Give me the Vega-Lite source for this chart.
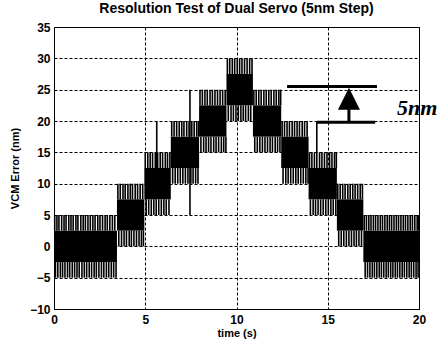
{
  "$schema": "https://vega.github.io/schema/vega-lite/v6.json",
  "width": 365,
  "height": 282,
  "autosize": "none",
  "padding": {"left": 54, "top": 27, "right": 26, "bottom": 36},
  "background": "white",
  "config": {
    "font": "Liberation Sans",
    "view": {"stroke": "black", "strokeWidth": 1},
    "axis": {
      "labelFont": "Liberation Sans", "labelFontWeight": "bold", "labelFontSize": 12, "labelColor": "black",
      "titleFont": "Liberation Sans", "titleFontWeight": "bold", "titleFontSize": 11, "titleColor": "black",
      "grid": true, "gridColor": "black", "gridDash": [3, 2], "gridOpacity": 1, "gridWidth": 1,
      "ticks": false, "domain": false, "labelOverlap": false
    },
    "axisY": {"tickCount": 10},
    "axisX": {"tickCount": 5}
  },
  "title": {"text": "Resolution Test of Dual Servo (5nm Step)", "offset": 5, "font": "Liberation Sans", "fontWeight": "bold", "fontSize": 14, "color": "black"},
  "datasets": {
    "bands": [
      {"t0": 0.0, "t1": 3.45, "lo": -2.5, "hi": 2.5},
      {"t0": 3.45, "t1": 4.95, "lo": 2.5, "hi": 7.5},
      {"t0": 4.95, "t1": 6.4, "lo": 7.5, "hi": 12.5},
      {"t0": 6.4, "t1": 7.95, "lo": 12.5, "hi": 17.5},
      {"t0": 7.95, "t1": 9.45, "lo": 17.5, "hi": 22.5},
      {"t0": 9.45, "t1": 10.9, "lo": 22.5, "hi": 27.5},
      {"t0": 10.9, "t1": 12.45, "lo": 17.5, "hi": 22.5},
      {"t0": 12.45, "t1": 13.95, "lo": 12.5, "hi": 17.5},
      {"t0": 13.95, "t1": 15.5, "lo": 7.5, "hi": 12.5},
      {"t0": 15.5, "t1": 16.95, "lo": 2.5, "hi": 7.5},
      {"t0": 16.95, "t1": 20.0, "lo": -2.5, "hi": 2.5}
    ],
    "spikes": [
      {"t":0.04,"lo":2.5,"hi":5},{"t":0.16,"lo":2.5,"hi":5},{"t":0.27,"lo":2.5,"hi":5},{"t":0.42,"lo":2.5,"hi":5},{"t":0.55,"lo":2.5,"hi":5},{"t":0.66,"lo":2.5,"hi":5},{"t":0.81,"lo":2.5,"hi":5},{"t":0.93,"lo":2.5,"hi":5},{"t":1.05,"lo":2.5,"hi":5},{"t":1.2,"lo":2.5,"hi":5},{"t":1.31,"lo":2.5,"hi":5},{"t":1.47,"lo":2.5,"hi":5},{"t":1.6,"lo":2.5,"hi":5},{"t":1.72,"lo":2.5,"hi":5},{"t":1.86,"lo":2.5,"hi":5},{"t":1.99,"lo":2.5,"hi":5},{"t":2.13,"lo":2.5,"hi":5},{"t":2.25,"lo":2.5,"hi":5},{"t":2.4,"lo":2.5,"hi":5},{"t":2.52,"lo":2.5,"hi":5},{"t":2.66,"lo":2.5,"hi":5},{"t":2.8,"lo":2.5,"hi":5},{"t":2.92,"lo":2.5,"hi":5},{"t":3.06,"lo":2.5,"hi":5},{"t":3.2,"lo":2.5,"hi":5},{"t":3.33,"lo":2.5,"hi":5},
      {"t":0.08,"lo":-5,"hi":-2.5},{"t":0.21,"lo":-5,"hi":-2.5},{"t":0.35,"lo":-5,"hi":-2.5},{"t":0.47,"lo":-5,"hi":-2.5},{"t":0.6,"lo":-5,"hi":-2.5},{"t":0.74,"lo":-5,"hi":-2.5},{"t":0.86,"lo":-5,"hi":-2.5},{"t":1.0,"lo":-5,"hi":-2.5},{"t":1.13,"lo":-5,"hi":-2.5},{"t":1.26,"lo":-5,"hi":-2.5},{"t":1.38,"lo":-5,"hi":-2.5},{"t":1.53,"lo":-5,"hi":-2.5},{"t":1.66,"lo":-5,"hi":-2.5},{"t":1.79,"lo":-5,"hi":-2.5},{"t":1.93,"lo":-5,"hi":-2.5},{"t":2.06,"lo":-5,"hi":-2.5},{"t":2.2,"lo":-5,"hi":-2.5},{"t":2.32,"lo":-5,"hi":-2.5},{"t":2.46,"lo":-5,"hi":-2.5},{"t":2.6,"lo":-5,"hi":-2.5},{"t":2.73,"lo":-5,"hi":-2.5},{"t":2.87,"lo":-5,"hi":-2.5},{"t":3.0,"lo":-5,"hi":-2.5},{"t":3.14,"lo":-5,"hi":-2.5},{"t":3.27,"lo":-5,"hi":-2.5},{"t":3.4,"lo":-5,"hi":-2.5},
      {"t":3.5,"lo":7.5,"hi":10},{"t":3.63,"lo":7.5,"hi":10},{"t":3.78,"lo":7.5,"hi":10},{"t":3.9,"lo":7.5,"hi":10},{"t":4.05,"lo":7.5,"hi":10},{"t":4.18,"lo":7.5,"hi":10},{"t":4.3,"lo":7.5,"hi":10},{"t":4.45,"lo":7.5,"hi":10},{"t":4.58,"lo":7.5,"hi":10},{"t":4.72,"lo":7.5,"hi":10},{"t":4.86,"lo":7.5,"hi":10},
      {"t":3.55,"lo":0,"hi":2.5},{"t":3.7,"lo":0,"hi":2.5},{"t":3.84,"lo":0,"hi":2.5},{"t":3.97,"lo":0,"hi":2.5},{"t":4.12,"lo":0,"hi":2.5},{"t":4.24,"lo":0,"hi":2.5},{"t":4.38,"lo":0,"hi":2.5},{"t":4.52,"lo":0,"hi":2.5},{"t":4.66,"lo":0,"hi":2.5},{"t":4.79,"lo":0,"hi":2.5},{"t":4.9,"lo":0,"hi":2.5},
      {"t":5.0,"lo":12.5,"hi":15},{"t":5.14,"lo":12.5,"hi":15},{"t":5.27,"lo":12.5,"hi":15},{"t":5.4,"lo":12.5,"hi":15},{"t":5.55,"lo":12.5,"hi":15},{"t":5.68,"lo":12.5,"hi":15},{"t":5.82,"lo":12.5,"hi":15},{"t":5.95,"lo":12.5,"hi":15},{"t":6.1,"lo":12.5,"hi":15},{"t":6.22,"lo":12.5,"hi":15},{"t":6.35,"lo":12.5,"hi":15},
      {"t":5.05,"lo":5,"hi":7.5},{"t":5.19,"lo":5,"hi":7.5},{"t":5.33,"lo":5,"hi":7.5},{"t":5.47,"lo":5,"hi":7.5},{"t":5.6,"lo":5,"hi":7.5},{"t":5.74,"lo":5,"hi":7.5},{"t":5.88,"lo":5,"hi":7.5},{"t":6.02,"lo":5,"hi":7.5},{"t":6.15,"lo":5,"hi":7.5},{"t":6.3,"lo":5,"hi":7.5},
      {"t":6.45,"lo":17.5,"hi":20},{"t":6.58,"lo":17.5,"hi":20},{"t":6.72,"lo":17.5,"hi":20},{"t":6.86,"lo":17.5,"hi":20},{"t":7.0,"lo":17.5,"hi":20},{"t":7.12,"lo":17.5,"hi":20},{"t":7.27,"lo":17.5,"hi":20},{"t":7.4,"lo":17.5,"hi":20},{"t":7.55,"lo":17.5,"hi":20},{"t":7.68,"lo":17.5,"hi":20},{"t":7.82,"lo":17.5,"hi":20},{"t":7.92,"lo":17.5,"hi":20},
      {"t":6.5,"lo":10,"hi":12.5},{"t":6.64,"lo":10,"hi":12.5},{"t":6.78,"lo":10,"hi":12.5},{"t":6.92,"lo":10,"hi":12.5},{"t":7.06,"lo":10,"hi":12.5},{"t":7.2,"lo":10,"hi":12.5},{"t":7.34,"lo":10,"hi":12.5},{"t":7.5,"lo":10,"hi":12.5},{"t":7.62,"lo":10,"hi":12.5},{"t":7.76,"lo":10,"hi":12.5},{"t":7.89,"lo":10,"hi":12.5},
      {"t":8.0,"lo":22.5,"hi":25},{"t":8.13,"lo":22.5,"hi":25},{"t":8.27,"lo":22.5,"hi":25},{"t":8.4,"lo":22.5,"hi":25},{"t":8.55,"lo":22.5,"hi":25},{"t":8.68,"lo":22.5,"hi":25},{"t":8.82,"lo":22.5,"hi":25},{"t":8.96,"lo":22.5,"hi":25},{"t":9.1,"lo":22.5,"hi":25},{"t":9.24,"lo":22.5,"hi":25},{"t":9.38,"lo":22.5,"hi":25},
      {"t":8.05,"lo":15,"hi":17.5},{"t":8.2,"lo":15,"hi":17.5},{"t":8.33,"lo":15,"hi":17.5},{"t":8.47,"lo":15,"hi":17.5},{"t":8.6,"lo":15,"hi":17.5},{"t":8.75,"lo":15,"hi":17.5},{"t":8.88,"lo":15,"hi":17.5},{"t":9.02,"lo":15,"hi":17.5},{"t":9.17,"lo":15,"hi":17.5},{"t":9.3,"lo":15,"hi":17.5},{"t":9.42,"lo":15,"hi":17.5},
      {"t":9.5,"lo":27.5,"hi":30},{"t":9.63,"lo":27.5,"hi":30},{"t":9.77,"lo":27.5,"hi":30},{"t":9.9,"lo":27.5,"hi":30},{"t":10.04,"lo":27.5,"hi":30},{"t":10.17,"lo":27.5,"hi":30},{"t":10.3,"lo":27.5,"hi":30},{"t":10.44,"lo":27.5,"hi":30},{"t":10.58,"lo":27.5,"hi":30},{"t":10.72,"lo":27.5,"hi":30},{"t":10.85,"lo":27.5,"hi":30},
      {"t":9.55,"lo":20,"hi":22.5},{"t":9.7,"lo":20,"hi":22.5},{"t":9.83,"lo":20,"hi":22.5},{"t":9.97,"lo":20,"hi":22.5},{"t":10.1,"lo":20,"hi":22.5},{"t":10.24,"lo":20,"hi":22.5},{"t":10.37,"lo":20,"hi":22.5},{"t":10.5,"lo":20,"hi":22.5},{"t":10.65,"lo":20,"hi":22.5},{"t":10.78,"lo":20,"hi":22.5},
      {"t":10.95,"lo":22.5,"hi":25},{"t":11.08,"lo":22.5,"hi":25},{"t":11.22,"lo":22.5,"hi":25},{"t":11.35,"lo":22.5,"hi":25},{"t":11.5,"lo":22.5,"hi":25},{"t":11.63,"lo":22.5,"hi":25},{"t":11.77,"lo":22.5,"hi":25},{"t":11.9,"lo":22.5,"hi":25},{"t":12.05,"lo":22.5,"hi":25},{"t":12.18,"lo":22.5,"hi":25},{"t":12.32,"lo":22.5,"hi":25},{"t":12.42,"lo":22.5,"hi":25},
      {"t":11.0,"lo":15,"hi":17.5},{"t":11.14,"lo":15,"hi":17.5},{"t":11.28,"lo":15,"hi":17.5},{"t":11.42,"lo":15,"hi":17.5},{"t":11.56,"lo":15,"hi":17.5},{"t":11.7,"lo":15,"hi":17.5},{"t":11.84,"lo":15,"hi":17.5},{"t":11.97,"lo":15,"hi":17.5},{"t":12.12,"lo":15,"hi":17.5},{"t":12.25,"lo":15,"hi":17.5},{"t":12.38,"lo":15,"hi":17.5},
      {"t":12.5,"lo":17.5,"hi":20},{"t":12.63,"lo":17.5,"hi":20},{"t":12.77,"lo":17.5,"hi":20},{"t":12.9,"lo":17.5,"hi":20},{"t":13.05,"lo":17.5,"hi":20},{"t":13.18,"lo":17.5,"hi":20},{"t":13.32,"lo":17.5,"hi":20},{"t":13.45,"lo":17.5,"hi":20},{"t":13.6,"lo":17.5,"hi":20},{"t":13.73,"lo":17.5,"hi":20},{"t":13.87,"lo":17.5,"hi":20},
      {"t":12.55,"lo":10,"hi":12.5},{"t":12.7,"lo":10,"hi":12.5},{"t":12.83,"lo":10,"hi":12.5},{"t":12.97,"lo":10,"hi":12.5},{"t":13.11,"lo":10,"hi":12.5},{"t":13.25,"lo":10,"hi":12.5},{"t":13.38,"lo":10,"hi":12.5},{"t":13.52,"lo":10,"hi":12.5},{"t":13.66,"lo":10,"hi":12.5},{"t":13.8,"lo":10,"hi":12.5},{"t":13.92,"lo":10,"hi":12.5},
      {"t":14.0,"lo":12.5,"hi":15},{"t":14.13,"lo":12.5,"hi":15},{"t":14.27,"lo":12.5,"hi":15},{"t":14.55,"lo":12.5,"hi":15},{"t":14.68,"lo":12.5,"hi":15},{"t":14.82,"lo":12.5,"hi":15},{"t":14.96,"lo":12.5,"hi":15},{"t":15.1,"lo":12.5,"hi":15},{"t":15.23,"lo":12.5,"hi":15},{"t":15.37,"lo":12.5,"hi":15},{"t":15.47,"lo":12.5,"hi":15},
      {"t":14.05,"lo":5,"hi":7.5},{"t":14.2,"lo":5,"hi":7.5},{"t":14.33,"lo":5,"hi":7.5},{"t":14.47,"lo":5,"hi":7.5},{"t":14.61,"lo":5,"hi":7.5},{"t":14.75,"lo":5,"hi":7.5},{"t":14.89,"lo":5,"hi":7.5},{"t":15.03,"lo":5,"hi":7.5},{"t":15.17,"lo":5,"hi":7.5},{"t":15.3,"lo":5,"hi":7.5},{"t":15.44,"lo":5,"hi":7.5},
      {"t":15.55,"lo":7.5,"hi":10},{"t":15.68,"lo":7.5,"hi":10},{"t":15.82,"lo":7.5,"hi":10},{"t":15.95,"lo":7.5,"hi":10},{"t":16.1,"lo":7.5,"hi":10},{"t":16.23,"lo":7.5,"hi":10},{"t":16.37,"lo":7.5,"hi":10},{"t":16.5,"lo":7.5,"hi":10},{"t":16.64,"lo":7.5,"hi":10},{"t":16.78,"lo":7.5,"hi":10},{"t":16.9,"lo":7.5,"hi":10},
      {"t":15.6,"lo":0,"hi":2.5},{"t":15.74,"lo":0,"hi":2.5},{"t":15.88,"lo":0,"hi":2.5},{"t":16.02,"lo":0,"hi":2.5},{"t":16.16,"lo":0,"hi":2.5},{"t":16.3,"lo":0,"hi":2.5},{"t":16.44,"lo":0,"hi":2.5},{"t":16.57,"lo":0,"hi":2.5},{"t":16.71,"lo":0,"hi":2.5},{"t":16.85,"lo":0,"hi":2.5},
      {"t":17.0,"lo":2.5,"hi":5},{"t":17.12,"lo":2.5,"hi":5},{"t":17.25,"lo":2.5,"hi":5},{"t":17.37,"lo":2.5,"hi":5},{"t":17.5,"lo":2.5,"hi":5},{"t":17.62,"lo":2.5,"hi":5},{"t":17.75,"lo":2.5,"hi":5},{"t":17.88,"lo":2.5,"hi":5},{"t":18.0,"lo":2.5,"hi":5},{"t":18.13,"lo":2.5,"hi":5},{"t":18.26,"lo":2.5,"hi":5},{"t":18.38,"lo":2.5,"hi":5},{"t":18.5,"lo":2.5,"hi":5},{"t":18.63,"lo":2.5,"hi":5},{"t":18.76,"lo":2.5,"hi":5},{"t":18.88,"lo":2.5,"hi":5},{"t":19.01,"lo":2.5,"hi":5},{"t":19.14,"lo":2.5,"hi":5},{"t":19.26,"lo":2.5,"hi":5},{"t":19.39,"lo":2.5,"hi":5},{"t":19.52,"lo":2.5,"hi":5},{"t":19.64,"lo":2.5,"hi":5},{"t":19.77,"lo":2.5,"hi":5},{"t":19.9,"lo":2.5,"hi":5},{"t":19.98,"lo":2.5,"hi":5},
      {"t":17.05,"lo":-5,"hi":-2.5},{"t":17.18,"lo":-5,"hi":-2.5},{"t":17.31,"lo":-5,"hi":-2.5},{"t":17.44,"lo":-5,"hi":-2.5},{"t":17.56,"lo":-5,"hi":-2.5},{"t":17.69,"lo":-5,"hi":-2.5},{"t":17.82,"lo":-5,"hi":-2.5},{"t":17.94,"lo":-5,"hi":-2.5},{"t":18.07,"lo":-5,"hi":-2.5},{"t":18.2,"lo":-5,"hi":-2.5},{"t":18.32,"lo":-5,"hi":-2.5},{"t":18.45,"lo":-5,"hi":-2.5},{"t":18.57,"lo":-5,"hi":-2.5},{"t":18.7,"lo":-5,"hi":-2.5},{"t":18.82,"lo":-5,"hi":-2.5},{"t":18.95,"lo":-5,"hi":-2.5},{"t":19.08,"lo":-5,"hi":-2.5},{"t":19.2,"lo":-5,"hi":-2.5},{"t":19.33,"lo":-5,"hi":-2.5},{"t":19.46,"lo":-5,"hi":-2.5},{"t":19.58,"lo":-5,"hi":-2.5},{"t":19.71,"lo":-5,"hi":-2.5},{"t":19.84,"lo":-5,"hi":-2.5},{"t":19.95,"lo":-5,"hi":-2.5},
      {"t":5.63,"lo":12.5,"hi":20},{"t":7.45,"lo":5,"hi":25},{"t":14.4,"lo":12.5,"hi":20}
    ],
    "hlines": [
      {"t0": 12.77, "t1": 17.7, "y": 25.5},
      {"t0": 14.41, "t1": 17.6, "y": 19.8}
    ],
    "shaft": [{"t": 16.16, "y0": 19.8, "y1": 22.3}],
    "head": [{"t": 16.16, "y": 23.55}],
    "label": [{"t": 18.8, "y": 22.0, "txt": "5nm"}]
  },
  "layer": [
    {
      "data": {"name": "bands"},
      "mark": {"type": "rect", "color": "black"},
      "encoding": {
        "x": {"field": "t0", "type": "quantitative", "scale": {"domain": [0, 20], "nice": false},
              "axis": {"values": [0, 5, 10, 15, 20], "title": "time (s)", "labelFlush": false, "labelPadding": 5, "titlePadding": 2}},
        "x2": {"field": "t1"},
        "y": {"field": "lo", "type": "quantitative", "scale": {"domain": [-10, 35], "nice": false},
              "axis": {"values": [-10, -5, 0, 5, 10, 15, 20, 25, 30, 35], "title": "VCM Error (nm)", "labelPadding": 4, "titlePadding": 9, "labelFlush": false}},
        "y2": {"field": "hi"}
      }
    },
    {
      "data": {"name": "spikes"},
      "mark": {"type": "rule", "color": "black", "strokeWidth": 1.6},
      "encoding": {
        "x": {"field": "t", "type": "quantitative", "axis": {"values": [0, 5, 10, 15, 20]}},
        "y": {"field": "lo", "type": "quantitative", "axis": {"values": [-10, -5, 0, 5, 10, 15, 20, 25, 30, 35]}},
        "y2": {"field": "hi"}
      }
    },
    {
      "data": {"name": "hlines"},
      "mark": {"type": "rule", "color": "black", "strokeWidth": 3},
      "encoding": {
        "x": {"field": "t0", "type": "quantitative", "axis": {"values": [0, 5, 10, 15, 20]}},
        "x2": {"field": "t1"},
        "y": {"field": "y", "type": "quantitative", "axis": {"values": [-10, -5, 0, 5, 10, 15, 20, 25, 30, 35]}}
      }
    },
    {
      "data": {"name": "shaft"},
      "mark": {"type": "rule", "color": "black", "strokeWidth": 3},
      "encoding": {
        "x": {"field": "t", "type": "quantitative", "axis": {"values": [0, 5, 10, 15, 20]}},
        "y": {"field": "y0", "type": "quantitative", "axis": {"values": [-10, -5, 0, 5, 10, 15, 20, 25, 30, 35]}},
        "y2": {"field": "y1"}
      }
    },
    {
      "data": {"name": "head"},
      "mark": {"type": "point", "shape": "M0,-1L1,1L-1,1Z", "filled": true, "color": "black", "size": 484, "opacity": 1},
      "encoding": {
        "x": {"field": "t", "type": "quantitative", "axis": {"values": [0, 5, 10, 15, 20]}},
        "y": {"field": "y", "type": "quantitative", "axis": {"values": [-10, -5, 0, 5, 10, 15, 20, 25, 30, 35]}}
      }
    },
    {
      "data": {"name": "label"},
      "mark": {"type": "text", "font": "Liberation Serif", "fontStyle": "italic", "fontWeight": "bold", "fontSize": 22, "align": "left", "baseline": "middle", "color": "black"},
      "encoding": {
        "x": {"field": "t", "type": "quantitative", "axis": {"values": [0, 5, 10, 15, 20]}},
        "y": {"field": "y", "type": "quantitative", "axis": {"values": [-10, -5, 0, 5, 10, 15, 20, 25, 30, 35]}},
        "text": {"field": "txt"}
      }
    }
  ]
}
